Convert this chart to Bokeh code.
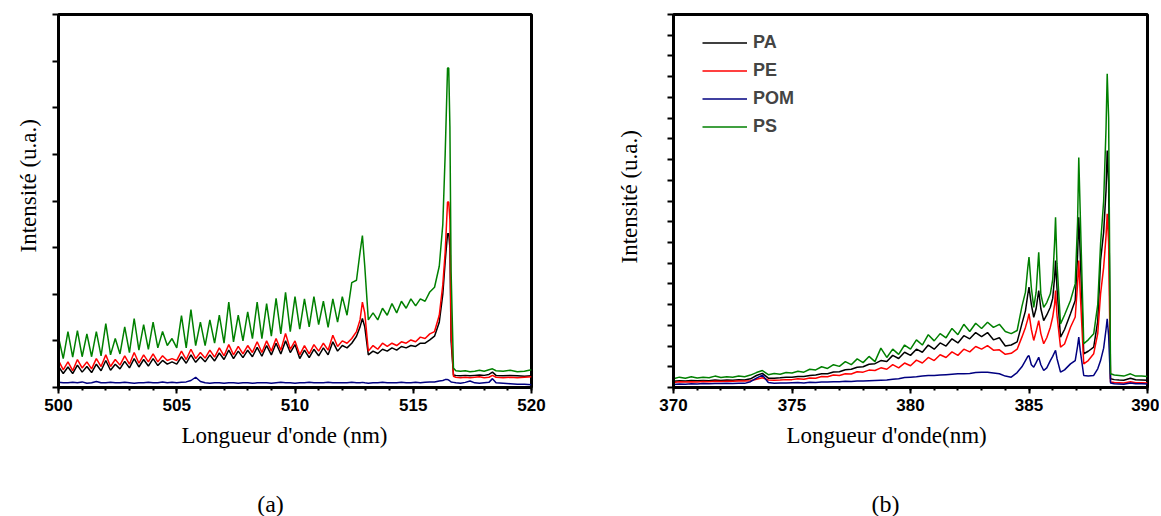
import numpy as np
from bokeh.plotting import figure
from bokeh.models import Range1d, FixedTicker, Title, Legend, LegendItem
from bokeh.core.properties import value
from bokeh.layouts import row, column
from bokeh.embed import file_html
from bokeh.resources import INLINE

# ---------------- data (a) : 500-520 nm ----------------
wl_a = np.concatenate([
    np.round(np.arange(500.0, 512.41, 0.2), 2),
    [512.6, 512.75, 512.85, 512.95, 513.1, 513.3, 513.5, 513.7, 513.9, 514.1,
     514.3, 514.5, 514.7, 514.9, 515.1, 515.3, 515.5, 515.7, 515.9, 516.1,
     516.25, 516.35, 516.45, 516.5, 516.55, 516.6, 516.7, 516.8, 517.0, 517.2,
     517.4, 517.6, 517.8, 518.0, 518.2, 518.35, 518.5, 518.8, 519.1, 519.4,
     519.7, 520.0]])

pa_a = [0.45, 0.30, 0.44, 0.30, 0.48, 0.33, 0.45, 0.32, 0.50, 0.36,
        0.58, 0.37, 0.50, 0.40, 0.56, 0.42, 0.62, 0.44, 0.60, 0.46,
        0.62, 0.47, 0.58, 0.50, 0.55, 0.50, 0.66, 0.52, 0.70, 0.54,
        0.66, 0.55, 0.70, 0.57, 0.74, 0.60, 0.80, 0.62, 0.78, 0.64,
        0.80, 0.66, 0.86, 0.67, 0.90, 0.70, 0.95, 0.72, 1.00, 0.75,
        0.92, 0.62, 0.80, 0.64, 0.82, 0.68, 0.85, 0.70, 0.98, 0.78,
        0.90, 0.85, 0.95,
        1.10, 1.30, 1.48, 1.30, 0.70, 0.78, 0.73, 0.82, 0.78, 0.85,
        0.80, 0.88, 0.85, 0.90, 0.88, 0.95, 0.95, 1.02, 1.10, 1.40,
        2.00, 2.70, 3.30, 3.30, 3.00, 1.00, 0.27, 0.26, 0.25, 0.26,
        0.25, 0.26, 0.27, 0.26, 0.28, 0.33, 0.26, 0.25, 0.26, 0.25,
        0.24, 0.25]

pe_a = [0.58, 0.38, 0.55, 0.36, 0.60, 0.42, 0.55, 0.40, 0.62, 0.45,
        0.70, 0.45, 0.60, 0.48, 0.68, 0.50, 0.75, 0.52, 0.70, 0.55,
        0.72, 0.55, 0.68, 0.58, 0.62, 0.58, 0.78, 0.60, 0.82, 0.62,
        0.75, 0.63, 0.80, 0.65, 0.85, 0.68, 0.92, 0.70, 0.88, 0.72,
        0.90, 0.75, 0.98, 0.75, 1.00, 0.78, 1.05, 0.80, 1.16, 0.82,
        1.00, 0.70, 0.90, 0.72, 0.92, 0.78, 0.95, 0.80, 1.12, 0.88,
        1.00, 0.95, 1.05,
        1.20, 1.45, 1.83, 1.60, 0.78, 0.90, 0.82, 0.95, 0.88, 0.95,
        0.90, 0.98, 0.95, 1.02, 0.98, 1.08, 1.05, 1.15, 1.20, 1.55,
        2.20, 2.90, 3.98, 3.98, 3.60, 1.20, 0.24, 0.22, 0.21, 0.22,
        0.21, 0.22, 0.23, 0.21, 0.22, 0.26, 0.22, 0.21, 0.22, 0.21,
        0.22, 0.23]

pom_a = [0.11, 0.10, 0.10, 0.11, 0.10, 0.12, 0.09, 0.10, 0.13, 0.10,
         0.10, 0.11, 0.10, 0.10, 0.11, 0.10, 0.09, 0.10, 0.10, 0.11,
         0.10, 0.10, 0.12, 0.10, 0.11, 0.10, 0.11, 0.12, 0.15, 0.22,
         0.13, 0.10, 0.09, 0.10, 0.10, 0.09, 0.10, 0.10, 0.09, 0.10,
         0.10, 0.09, 0.10, 0.10, 0.10, 0.09, 0.10, 0.11, 0.10, 0.10,
         0.09, 0.10, 0.10, 0.11, 0.10, 0.10, 0.10, 0.11, 0.10, 0.10,
         0.10, 0.10, 0.11,
         0.10, 0.10, 0.11, 0.10, 0.09, 0.10, 0.10, 0.11, 0.10, 0.10,
         0.10, 0.11, 0.10, 0.10, 0.11, 0.10, 0.11, 0.12, 0.12, 0.14,
         0.15, 0.17, 0.17, 0.16, 0.14, 0.12, 0.11, 0.10, 0.09, 0.11,
         0.14, 0.10, 0.09, 0.10, 0.11, 0.19, 0.10, 0.09, 0.08, 0.07,
         0.07, 0.06]

ps_a = [1.08, 0.62, 1.20, 0.65, 1.22, 0.66, 1.15, 0.66, 1.20, 0.68,
        1.37, 0.70, 1.05, 0.72, 1.30, 0.75, 1.48, 0.80, 1.35, 0.82,
        1.40, 0.85, 1.20, 0.90, 1.05, 0.85, 1.54, 0.85, 1.67, 0.90,
        1.40, 0.90, 1.45, 0.95, 1.55, 0.95, 1.83, 0.98, 1.55, 1.00,
        1.62, 1.05, 1.83, 1.05, 1.80, 1.10, 1.91, 1.15, 2.04, 1.20,
        1.95, 1.25, 1.90, 1.30, 1.95, 1.35, 1.85, 1.29, 1.90, 1.40,
        1.95, 1.55, 2.25,
        2.30, 2.90, 3.26, 2.60, 1.45, 1.60, 1.45, 1.70, 1.55, 1.80,
        1.60, 1.85, 1.70, 1.90, 1.75, 1.90, 1.85, 2.05, 2.15, 2.60,
        3.50, 5.00, 6.85, 6.85, 5.60, 2.50, 0.42, 0.36, 0.35, 0.36,
        0.34, 0.35, 0.37, 0.35, 0.38, 0.40, 0.36, 0.35, 0.37, 0.34,
        0.35, 0.38]

# ---------------- data (b) : 370-390 nm ----------------
wl_b = np.concatenate([
    np.round(np.arange(370.0, 384.51, 0.25), 2),
    [384.7, 384.85, 384.95, 385.0, 385.1, 385.2, 385.3, 385.41, 385.5, 385.62,
     385.75, 385.9, 386.0, 386.08, 386.12, 386.18, 386.33, 386.5, 386.75, 386.95,
     387.05, 387.1, 387.16, 387.31, 387.5, 387.73, 387.9, 388.02, 388.15, 388.25,
     388.3, 388.36, 388.44, 388.6, 388.8, 389.0, 389.28, 389.5, 389.75, 390.0]])

pa_b = [0.30, 0.33, 0.31, 0.34, 0.32, 0.34, 0.33, 0.36, 0.34, 0.36,
        0.35, 0.37, 0.36, 0.42, 0.58, 0.68, 0.45, 0.45, 0.47, 0.50,
        0.50, 0.53, 0.53, 0.58, 0.60, 0.66, 0.66, 0.75, 0.76, 0.86,
        0.88, 0.98, 1.00, 1.12, 1.15, 1.30, 1.25, 1.55, 1.40, 1.70,
        1.55, 1.85, 1.70, 2.05, 1.85, 2.15, 2.00, 2.35, 2.15, 2.50,
        2.35, 2.65, 2.45, 2.65, 2.30, 2.40, 2.00, 2.05, 2.20,
        3.07, 3.70, 4.50, 4.84, 4.00, 3.39, 3.80, 4.68, 3.80, 3.23,
        3.50, 3.87, 4.30, 5.30, 6.13, 4.80, 2.43, 2.80, 3.56, 4.20,
        6.40, 8.22, 6.50, 1.63, 1.75, 1.95, 3.20, 6.13, 7.50, 9.50,
        11.44, 9.80, 0.42, 0.38, 0.36, 0.35, 0.45, 0.37, 0.36, 0.35]

pe_b = [0.24, 0.28, 0.26, 0.28, 0.27, 0.29, 0.28, 0.30, 0.29, 0.30,
        0.30, 0.31, 0.31, 0.33, 0.40, 0.47, 0.36, 0.35, 0.36, 0.38,
        0.38, 0.42, 0.40, 0.46, 0.45, 0.53, 0.52, 0.60, 0.58, 0.66,
        0.65, 0.76, 0.74, 0.84, 0.82, 0.95, 0.88, 1.10, 0.95, 1.18,
        1.05, 1.32, 1.18, 1.45, 1.30, 1.58, 1.45, 1.72, 1.55, 1.85,
        1.72, 1.98, 1.85, 2.02, 1.80, 1.82, 1.60, 1.65, 1.85,
        2.43, 2.90, 3.30, 3.56, 2.80, 2.27, 2.70, 3.23, 2.60, 2.11,
        2.40, 2.91, 3.40, 4.00, 4.68, 3.50, 1.95, 2.10, 2.91, 3.40,
        5.00, 6.13, 4.60, 1.14, 1.30, 1.63, 2.60, 4.52, 5.80, 7.30,
        8.38, 7.00, 0.26, 0.24, 0.23, 0.22, 0.28, 0.23, 0.23, 0.22]

pom_b = [0.14, 0.17, 0.16, 0.18, 0.17, 0.19, 0.18, 0.19, 0.19, 0.20,
         0.19, 0.20, 0.20, 0.28, 0.45, 0.60, 0.24, 0.21, 0.22, 0.22,
         0.23, 0.24, 0.22, 0.25, 0.24, 0.26, 0.26, 0.28, 0.28, 0.30,
         0.29, 0.31, 0.31, 0.33, 0.34, 0.35, 0.36, 0.40, 0.42, 0.48,
         0.50, 0.52, 0.55, 0.58, 0.58, 0.60, 0.62, 0.64, 0.66, 0.66,
         0.68, 0.72, 0.74, 0.74, 0.70, 0.66, 0.55, 0.50, 0.72,
         1.00, 1.30, 1.50, 1.54, 1.10, 0.98, 1.20, 1.46, 1.10, 0.82,
         0.95, 1.30, 1.50, 1.70, 1.79, 1.40, 0.74, 0.85, 1.14, 1.30,
         2.00, 2.43, 1.80, 0.58, 0.56, 0.58, 0.90, 1.30, 1.90, 2.80,
         3.31, 2.50, 0.22, 0.18, 0.17, 0.16, 0.22, 0.18, 0.18, 0.17]

ps_b = [0.42, 0.50, 0.45, 0.52, 0.46, 0.50, 0.47, 0.55, 0.48, 0.52,
        0.50, 0.55, 0.52, 0.60, 0.72, 0.82, 0.62, 0.68, 0.64, 0.72,
        0.70, 0.78, 0.74, 0.88, 0.85, 1.00, 0.92, 1.10, 1.02, 1.25,
        1.10, 1.38, 1.20, 1.50, 1.25, 1.90, 1.45, 1.85, 1.60, 2.05,
        1.85, 2.30, 2.05, 2.55, 2.25, 2.60, 2.40, 2.85, 2.55, 3.05,
        2.70, 3.10, 2.85, 3.15, 2.90, 3.05, 2.70, 2.60, 2.75,
        3.90, 4.60, 5.80, 6.29, 4.80, 3.87, 4.60, 6.53, 4.50, 3.87,
        4.10, 4.52, 5.20, 7.00, 8.22, 6.00, 3.07, 3.50, 4.20, 5.00,
        8.00, 11.10, 8.50, 2.11, 2.30, 2.59, 4.00, 6.94, 9.00, 12.50,
        15.14, 13.00, 0.66, 0.60, 0.58, 0.55, 0.66, 0.55, 0.56, 0.53]

series_names = ["PA", "PE", "POM", "PS"]
series_colors = ["#000000", "#ff0000", "#000080", "#008000"]
xticks_a = [500, 505, 510, 515, 520]
xticks_b = [370, 375, 380, 385, 390]
x_title_a = "Longueur d'onde (nm)"
x_title_b = "Longueur d'onde(nm)"
y_title = "Intensité (u.a.)"
captions = ["(a)", "(b)"]

SERIF = "Liberation Serif"
TICKF = "Liberation Sans Narrow, Liberation Sans, Arial, sans-serif"
MAIN_H = 462
CAP_H = 516 - MAIN_H


def make_panel(wl, ys, xlim, ymax, xticks, xtitle, width, bl, br,
               xt_off, yt_off, yt_standoff):
    p = figure(width=width, height=MAIN_H, output_backend="svg", toolbar_location=None,
               x_range=Range1d(*xlim), y_range=Range1d(0, ymax),
               min_border_left=bl, min_border_right=br,
               min_border_top=14, min_border_bottom=MAIN_H - 14 - 373)
    p.grid.visible = False
    p.outline_line_color = "black"
    p.outline_line_width = 3
    p.background_fill_color = "white"
    p.border_fill_color = "white"
    rends = []
    for y, c in zip(ys, series_colors):
        rends.append(p.line(wl, y, line_color=c, line_width=1.5))

    xa = p.xaxis[0]
    xa.ticker = FixedTicker(ticks=xticks, minor_ticks=list(range(xlim[0], xlim[1] + 1)))
    xa.major_label_text_font = TICKF
    xa.major_label_text_font_style = "bold"
    xa.major_label_text_font_size = "17px"
    xa.major_label_text_color = "black"
    xa.major_label_standoff = 5
    xa.axis_line_width = 3
    xa.major_tick_out = 6
    xa.major_tick_in = 0
    xa.minor_tick_out = 3
    xa.minor_tick_in = 0
    xa.major_tick_line_width = 2
    xa.minor_tick_line_width = 2

    ya = p.yaxis[0]
    # unlabelled intensity axis: every tick mark drawn as a label-free minor tick
    ya.ticker = FixedTicker(ticks=[], minor_ticks=list(range(0, ymax + 1)))
    ya.axis_line_width = 3
    ya.major_tick_out = 0
    ya.minor_tick_out = 6
    ya.minor_tick_in = 0
    ya.minor_tick_line_width = 2

    p.add_layout(Title(text=xtitle, align="left", offset=xt_off, standoff=14,
                       text_font=SERIF, text_font_size="23px",
                       text_font_style="normal", text_color="black"), "below")
    p.add_layout(Title(text=y_title, align="left", offset=yt_off, standoff=yt_standoff,
                       text_font=SERIF, text_font_size="23px",
                       text_font_style="normal", text_color="black"), "left")
    return p, rends


def caption_fig(text, width, xc):
    c = figure(width=width, height=CAP_H, output_backend="svg", toolbar_location=None,
               x_range=Range1d(0, width), y_range=Range1d(0, CAP_H),
               x_axis_location=None, y_axis_location=None,
               min_border_left=0, min_border_right=0, min_border_top=0, min_border_bottom=0)
    c.grid.visible = False
    c.outline_line_color = None
    c.text(x=[xc], y=[13], text=[text], text_font=value(SERIF), text_font_size="24px",
           text_align="center", text_baseline="middle", text_color="black")
    return c


W1 = 583
W2 = 1159 - W1
p1, _ = make_panel(wl_a, [pa_a, pe_a, pom_a, ps_a], (500, 520), 8, xticks_a,
                   x_title_a, W1, 58, W1 - 58 - 473, 123, 135, 24)
p2, r2 = make_panel(wl_b, [pa_b, pe_b, pom_b, ps_b], (370, 390), 18, xticks_b,
                    x_title_b, W2, 673 - W1, W2 - (673 - W1) - 474, 113, 124, 52)

legend = Legend(items=[LegendItem(label=n, renderers=[r]) for n, r in zip(series_names, r2)],
                location=(29, 250), padding=0, margin=0, spacing=7,
                glyph_width=45, glyph_height=21, label_height=21, label_standoff=6,
                label_text_font="Liberation Sans", label_text_font_style="bold",
                label_text_font_size="18px", border_line_alpha=0,
                background_fill_alpha=0)
p2.add_layout(legend)

c1 = caption_fig(captions[0], W1, 270)
c2 = caption_fig(captions[1], W2, 885 - W1)

layout = column(row(p1, p2), row(c1, c2))
open("out.html", "w").write(file_html(layout, INLINE))
